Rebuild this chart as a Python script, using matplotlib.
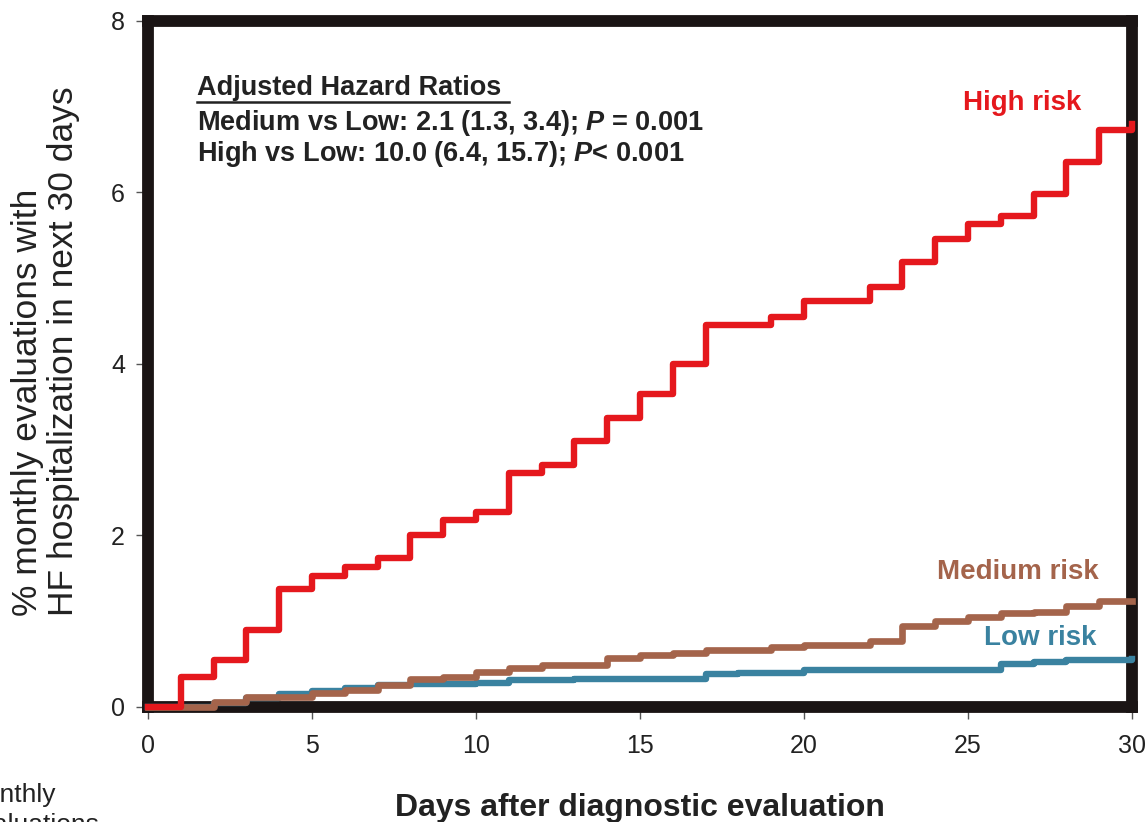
import numpy as np
import matplotlib
matplotlib.use("Agg")
import matplotlib.pyplot as plt

plt.rcParams['font.family'] = ['Liberation Sans', 'DejaVu Sans']
plt.rcParams['mathtext.fontset'] = 'custom'
plt.rcParams['mathtext.bf'] = 'Liberation Sans:italic:bold'
plt.rcParams['mathtext.rm'] = 'Liberation Sans:bold'

# days after evaluation, value holds from that day to the next one
days = np.arange(0, 31)
high_risk = [0, 0.35, 0.55, 0.90, 1.37, 1.53, 1.63, 1.73, 2.00, 2.18,
             2.27, 2.73, 2.82, 3.10, 3.37, 3.65, 4.00, 4.45, 4.45, 4.55,
             4.73, 4.73, 4.90, 5.18, 5.45, 5.63, 5.72, 5.98, 6.35, 6.73, 6.80]
medium_risk = [0, 0, 0.06, 0.12, 0.12, 0.16, 0.20, 0.25, 0.33, 0.35,
               0.41, 0.45, 0.49, 0.49, 0.57, 0.61, 0.63, 0.66, 0.66, 0.70,
               0.72, 0.72, 0.77, 0.94, 1.00, 1.05, 1.09, 1.11, 1.18, 1.24, 1.24]
low_risk = [0, 0, 0.05, 0.10, 0.15, 0.18, 0.22, 0.25, 0.27, 0.27,
            0.28, 0.31, 0.31, 0.33, 0.33, 0.33, 0.33, 0.38, 0.40, 0.40,
            0.43, 0.43, 0.43, 0.43, 0.43, 0.43, 0.50, 0.52, 0.55, 0.55, 0.56]

x_ticks = [0, 5, 10, 15, 20, 25, 30]
y_ticks = [0, 2, 4, 6, 8]

red = '#e5181d'
brown = '#a4644b'
blue = '#3a82a0'

fig = plt.figure(figsize=(11.47, 8.22), dpi=100)
ax = fig.add_axes([0.129, 0.140, 0.858, 0.835])

ax.step(days, low_risk, where='post', color=blue, lw=4.6, zorder=3, clip_on=False)
ax.step(days, medium_risk, where='post', color=brown, lw=4.8, zorder=3.1, clip_on=False)
ax.step(days, high_risk, where='post', color=red, lw=4.6, zorder=3.2, clip_on=False)

ax.set_xlim(0, 30)
ax.set_ylim(0, 8)
ax.set_xticks(x_ticks)
ax.set_yticks(y_ticks)
ax.tick_params(axis='both', direction='out', length=8.5, width=1.0,
               color='#555555', labelsize=18, labelcolor='#222222')
ax.tick_params(axis='x', pad=11)
ax.tick_params(axis='y', pad=8)

for s in ax.spines.values():
    s.set_linewidth(8.5)
    s.set_color('#1a1414')
    s.set_capstyle('projecting')

ax.set_xlabel('Days after diagnostic evaluation', fontsize=23, fontweight='bold',
              color='#222222', labelpad=25)
ax.set_ylabel('% monthly evaluations with\nHF hospitalization in next 30 days',
              fontsize=25.5, color='#222222', linespacing=1.12, multialignment='left')
ax.yaxis.set_label_coords(-0.069, 0.519)

# hazard ratio box
head = ax.text(0.05, 0.902, 'Adjusted Hazard Ratios', transform=ax.transAxes,
               fontsize=19.5, fontweight='bold', color='#222222', va='center')
ax.text(0.05, 0.851, r'Medium vs Low: 2.1 (1.3, 3.4); $\mathbf{P}$ = 0.001',
        transform=ax.transAxes, fontsize=19.5, fontweight='bold', color='#222222', va='center')
ax.text(0.05, 0.805, r'High vs Low: 10.0 (6.4, 15.7); $\mathbf{P}$< 0.001',
        transform=ax.transAxes, fontsize=19.5, fontweight='bold', color='#222222', va='center')

fig.canvas.draw()
bb = head.get_window_extent().transformed(ax.transAxes.inverted())
ax.plot([bb.x0, bb.x1 + 0.008], [bb.y0 - 0.002, bb.y0 - 0.002], transform=ax.transAxes,
        color='#222222', lw=1.8, clip_on=False)

ax.text(0.888, 0.880, 'High risk', transform=ax.transAxes, fontsize=20,
        fontweight='bold', color=red, ha='center', va='center')
ax.text(0.884, 0.197, 'Medium risk', transform=ax.transAxes, fontsize=20,
        fontweight='bold', color=brown, ha='center', va='center')
ax.text(0.907, 0.101, 'Low risk', transform=ax.transAxes, fontsize=20,
        fontweight='bold', color=blue, ha='center', va='center')

# cut-off text from neighbouring panel
fig.text(0.048, 0.033, '% monthly', fontsize=19, color='#222222', ha='right', va='center')
fig.text(0.087, -0.004, 'evaluations', fontsize=19, color='#222222', ha='right', va='center')

fig.savefig('out.png', dpi=100)
